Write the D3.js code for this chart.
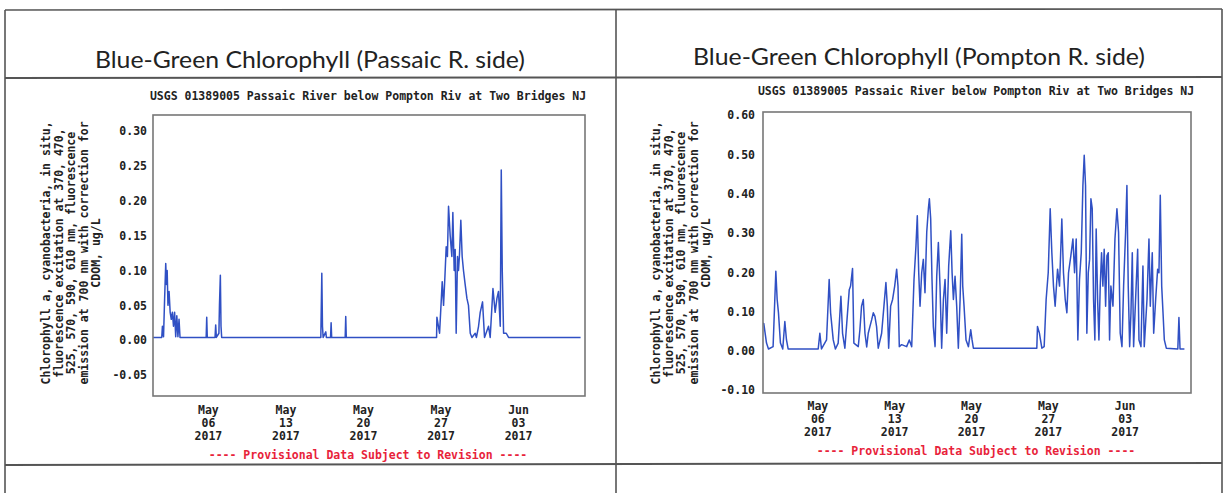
<!DOCTYPE html>
<html>
<head>
<meta charset="utf-8">
<script src="https://cdn.jsdelivr.net/npm/d3@7"></script>
<style>
  body { margin: 0; background: #fff; }
  svg { display: block; }
</style>
</head>
<body>
<svg id="page" width="1224" height="493"></svg>
<script>
// Titles and labels
var panelTitles = ["Blue-Green Chlorophyll (Passaic R. side)", "Blue-Green Chlorophyll (Pompton R. side)"]
var stationName = "USGS 01389005 Passaic River below Pompton Riv at Two Bridges NJ"
var yLabelLines = [
  "Chlorophyll a, cyanobacteria, in situ,",
  "fluorescence excitation at 370, 470,",
  "525, 570, 590, 610 nm, fluorescence",
  "emission at 700 nm with correction for",
  "CDOM, ug/L"
]
var footnote = "---- Provisional Data Subject to Revision ----"

// x axis (days since 2017-05-01)
var startDate = new Date(2017, 4, 1)
var endDate = new Date(2017, 5, 9)
var xTickDates = [new Date(2017, 4, 6), new Date(2017, 4, 13), new Date(2017, 4, 20), new Date(2017, 4, 27), new Date(2017, 5, 3)]

// y ticks
var passaicYTicks = [-0.05, 0.00, 0.05, 0.10, 0.15, 0.20, 0.25, 0.30]
var pomptonYTicks = [-0.10, 0.00, 0.10, 0.20, 0.30, 0.40, 0.50, 0.60]
var passaicYDomain = [-0.080, 0.323]
var pomptonYDomain = [-0.107, 0.608]

// Passaic side series: [day offset, ug/L]
var passaicSeries = [
  [0,0.004],[0.79,0.004],[0.85,0.02],[0.95,0.005],[1.05,0.06],[1.15,0.11],[1.22,0.08],[1.28,0.10],
  [1.35,0.05],[1.45,0.07],[1.55,0.04],[1.65,0.03],[1.75,0.04],[1.85,0.02],[1.95,0.04],[2.05,0.005],
  [2.15,0.035],[2.25,0.005],[2.35,0.03],[2.44,0.004],[4.8,0.004],[4.85,0.033],[4.9,0.004],
  [5.6,0.004],[5.66,0.022],[5.72,0.004],[5.95,0.01],[6.0,0.05],[6.08,0.093],[6.14,0.02],[6.2,0.004],
  [15.15,0.004],[15.24,0.096],[15.3,0.02],[15.36,0.004],[15.6,0.012],[15.65,0.004],
  [16.03,0.004],[16.08,0.025],[16.13,0.004],[17.35,0.004],[17.4,0.034],[17.45,0.004],
  [25.6,0.004],[25.63,0.033],[25.87,0.01],[26.11,0.084],[26.23,0.05],[26.35,0.09],[26.47,0.134],
  [26.58,0.12],[26.68,0.192],[26.76,0.17],[26.83,0.15],[26.98,0.12],[27.07,0.183],[27.19,0.10],
  [27.28,0.13],[27.37,0.01],[27.49,0.12],[27.58,0.10],[27.67,0.123],[27.79,0.172],[27.91,0.12],
  [28.03,0.10],[28.18,0.08],[28.34,0.06],[28.48,0.05],[28.64,0.01],[28.79,0.004],[29.09,0.01],
  [29.2,0.004],[29.39,0.02],[29.54,0.04],[29.75,0.055],[29.93,0.004],[30.29,0.02],[30.44,0.004],
  [30.69,0.074],[30.89,0.04],[31.05,0.06],[31.19,0.07],[31.35,0.02],[31.44,0.244],[31.53,0.10],
  [31.65,0.01],[31.89,0.01],[32.1,0.004],[38.6,0.004]
]

// Pompton side series: [day offset, ug/L]
var pomptonSeries = [
  [0,0.07],[0.07,0.07],[0.32,0.02],[0.5,0.005],[0.92,0.011],[1.17,0.203],[1.29,0.131],[1.41,0.097],
  [1.59,0.02],[1.8,0.005],[1.99,0.075],[2.14,0.028],[2.29,0.005],
  [5.03,0.005],[5.18,0.045],[5.33,0.005],[5.79,0.028],[6.03,0.182],[6.16,0.097],[6.40,0.028],
  [6.6,0.005],[6.85,0.02],[7.10,0.139],[7.25,0.045],[7.46,0.007],[7.86,0.156],[7.98,0.165],
  [8.16,0.21],[8.28,0.02],[8.68,0.011],[8.83,0.054],[8.98,0.114],[9.14,0.131],[9.29,0.045],
  [9.45,0.01],[9.59,0.045],[9.74,0.062],[9.90,0.079],[10.05,0.097],[10.20,0.088],[10.35,0.062],
  [10.50,0.007],[10.81,0.045],[11.02,0.114],[11.20,0.174],[11.33,0.114],[11.45,0.007],[11.63,0.114],
  [11.81,0.131],[12.00,0.165],[12.18,0.208],[12.30,0.165],[12.42,0.011],[12.63,0.016],[13.09,0.011],
  [13.33,0.028],[13.55,0.011],[13.76,0.182],[13.94,0.268],[14.06,0.344],[14.19,0.199],[14.31,0.114],
  [14.46,0.199],[14.61,0.233],[14.76,0.148],[14.92,0.302],[15.07,0.362],[15.16,0.387],[15.28,0.336],
  [15.40,0.182],[15.52,0.062],[15.68,0.011],[15.83,0.19],[15.98,0.276],[16.13,0.165],[16.28,0.007],
  [16.44,0.131],[16.59,0.182],[16.74,0.045],[16.92,0.216],[17.11,0.306],[17.23,0.199],[17.35,0.131],
  [17.50,0.19],[17.65,0.114],[17.80,0.007],[17.96,0.131],[18.11,0.297],[18.20,0.165],[18.32,0.114],
  [18.50,0.028],[18.72,0.011],[18.93,0.054],[19.05,0.028],[19.17,0.007],
  [24.95,0.007],[25.01,0.062],[25.19,0.045],[25.41,0.007],[25.62,0.011],[25.80,0.131],[25.99,0.199],
  [26.17,0.362],[26.32,0.25],[26.47,0.165],[26.62,0.114],[26.84,0.208],[27.02,0.165],[27.23,0.336],
  [27.38,0.199],[27.54,0.131],[27.69,0.097],[27.84,0.199],[28.05,0.242],[28.24,0.285],[28.39,0.199],
  [28.54,0.285],[28.69,0.028],[28.84,0.182],[29.00,0.25],[29.15,0.421],[29.27,0.498],[29.39,0.421],
  [29.51,0.045],[29.64,0.199],[29.76,0.233],[29.88,0.387],[30.00,0.362],[30.12,0.131],[30.24,0.028],
  [30.36,0.31],[30.49,0.131],[30.61,0.028],[30.73,0.165],[30.85,0.25],[30.97,0.165],[31.09,0.259],
  [31.22,0.114],[31.34,0.242],[31.46,0.25],[31.58,0.028],[31.70,0.165],[31.89,0.114],[32.07,0.285],
  [32.25,0.362],[32.40,0.302],[32.55,0.045],[32.71,0.011],[32.86,0.165],[33.04,0.302],[33.16,0.421],
  [33.28,0.165],[33.41,0.011],[33.53,0.097],[33.65,0.25],[33.77,0.011],[33.95,0.131],[34.14,0.259],
  [34.26,0.028],[34.44,0.011],[34.62,0.216],[34.74,0.011],[34.99,0.131],[35.17,0.285],[35.29,0.114],
  [35.47,0.25],[35.60,0.045],[35.78,0.131],[35.96,0.208],[36.08,0.199],[36.20,0.396],[36.33,0.165],
  [36.45,0.097],[36.57,0.028],[36.75,0.007],[37.8,0.005],[37.9,0.085],[38.0,0.005],[38.4,0.005]
]

var mono = "'DejaVu Sans Mono', 'Liberation Mono', monospace"
var svg = d3.select("#page")

// Table grid of the scanned page
var grid = svg.append("g").attr("stroke", "#555").attr("fill", "none")
grid.append("line").attr("x1", 5).attr("x2", 1222).attr("y1", 10).attr("y2", 9).attr("stroke-width", 1.6)
grid.append("line").attr("x1", 5).attr("x2", 1222).attr("y1", 78).attr("y2", 77).attr("stroke-width", 2)
grid.append("line").attr("x1", 5).attr("x2", 1222).attr("y1", 465).attr("y2", 463).attr("stroke-width", 2)
grid.append("line").attr("x1", 5).attr("x2", 5).attr("y1", 10).attr("y2", 493).attr("stroke-width", 1.6)
grid.append("line").attr("x1", 616).attr("x2", 616).attr("y1", 9).attr("y2", 493).attr("stroke-width", 1.6)
grid.append("line").attr("x1", 1222).attr("x2", 1222).attr("y1", 9).attr("y2", 493).attr("stroke-width", 1.6)

function fmt(v) { return v.toFixed(2) }

function drawPanel(p) {
  // Panel title
  svg.append("text")
  .attr("x", p.titleX).attr("y", p.titleY)
  .attr("textLength", p.titleLen).attr("lengthAdjust", "spacingAndGlyphs")
  .style("font-family", "Lato, 'Open Sans', sans-serif")
  .style("font-size", "23px").style("fill", "#222")
  .text(p.title)

  svg.append("text")
  .attr("x", p.stationX).attr("y", p.stationY)
  .attr("text-anchor", "middle")
  .style("font-family", mono).style("font-size", "11.5px").style("font-weight", "bold").style("fill", "#222")
  .text(stationName)

  var x = d3.scaleTime().domain([startDate, endDate]).range([p.left, p.right])
  var y = d3.scaleLinear().domain(p.yDomain).range([p.bottom, p.top])

  var clipId = "clip" + p.id
  svg.append("clipPath").attr("id", clipId)
  .append("rect").attr("x", p.left).attr("y", p.top)
  .attr("width", p.right - p.left).attr("height", p.bottom - p.top)

  // Y axis
  var yAxis = svg.append("g")
  .attr("transform", "translate(" + p.left + ",0)")
  .call(d3.axisLeft(y).tickValues(p.yTicks).tickFormat(fmt).tickSize(0).tickPadding(p.tickPad))
  yAxis.select(".domain").remove()
  yAxis.selectAll("text")
  .style("font-family", mono).style("font-size", "11.5px").style("font-weight", "bold").style("fill", "#222")

  // X axis labels (month / day / year)
  var xl = svg.append("g").selectAll("text")
  .data(xTickDates).enter()
  .append("text")
  .attr("text-anchor", "middle")
  .attr("transform", function (d) { return "translate(" + x(d) + "," + p.xLabelY + ")" })
  .style("font-family", mono).style("font-size", "11.5px").style("font-weight", "bold").style("fill", "#222")
  xl.append("tspan").attr("x", 0).attr("dy", 0).text(d3.timeFormat("%b"))
  xl.append("tspan").attr("x", 0).attr("dy", 13).text(d3.timeFormat("%d"))
  xl.append("tspan").attr("x", 0).attr("dy", 13).text(d3.timeFormat("%Y"))

  // Y axis title, rotated
  var yt = svg.append("text")
  .attr("text-anchor", "middle")
  .attr("transform", "translate(" + p.yTitleX + "," + p.yTitleY + ") rotate(-90)")
  .style("font-family", mono).style("font-size", "11.5px").style("font-weight", "bold").style("fill", "#222")
  yLabelLines.forEach(function (s, i) {
    yt.append("tspan").attr("x", 0).attr("y", i * 12.5).text(s)
  })

  // Series line
  var line = d3.line()
  .x(function (d) { return x(new Date(startDate.getTime() + d[0] * 864e5)) })
  .y(function (d) { return y(d[1]) })

  svg.append("path")
  .datum(p.series)
  .attr("clip-path", "url(#" + clipId + ")")
  .attr("fill", "none")
  .attr("stroke", "#3050c4")
  .attr("stroke-width", 1.5)
  .attr("stroke-linejoin", "round")
  .attr("d", line)

  // Plot frame
  svg.append("rect")
  .attr("x", p.left).attr("y", p.top)
  .attr("width", p.right - p.left).attr("height", p.bottom - p.top)
  .attr("fill", "none").attr("stroke", "#777").attr("stroke-width", 1.6)

  // Footnote
  svg.append("text")
  .attr("x", p.footX).attr("y", p.footY)
  .attr("text-anchor", "middle")
  .style("font-family", mono).style("font-size", "11.5px").style("font-weight", "bold").style("fill", "#e8233a")
  .text(footnote)
}

drawPanel({
  id: "a", title: panelTitles[0], titleX: 95, titleY: 68, titleLen: 430,
  stationX: 368, stationY: 100,
  left: 153, right: 585, top: 115, bottom: 396,
  yDomain: passaicYDomain, yTicks: passaicYTicks, tickPad: 6,
  xLabelY: 414, yTitleX: 50, yTitleY: 253,
  series: passaicSeries, footX: 368, footY: 459
})

drawPanel({
  id: "b", title: panelTitles[1], titleX: 693, titleY: 65, titleLen: 452,
  stationX: 976, stationY: 95,
  left: 763, right: 1191, top: 112, bottom: 393,
  yDomain: pomptonYDomain, yTicks: pomptonYTicks, tickPad: 8,
  xLabelY: 410, yTitleX: 660, yTitleY: 253,
  series: pomptonSeries, footX: 976, footY: 455
})
</script>
</body>
</html>
